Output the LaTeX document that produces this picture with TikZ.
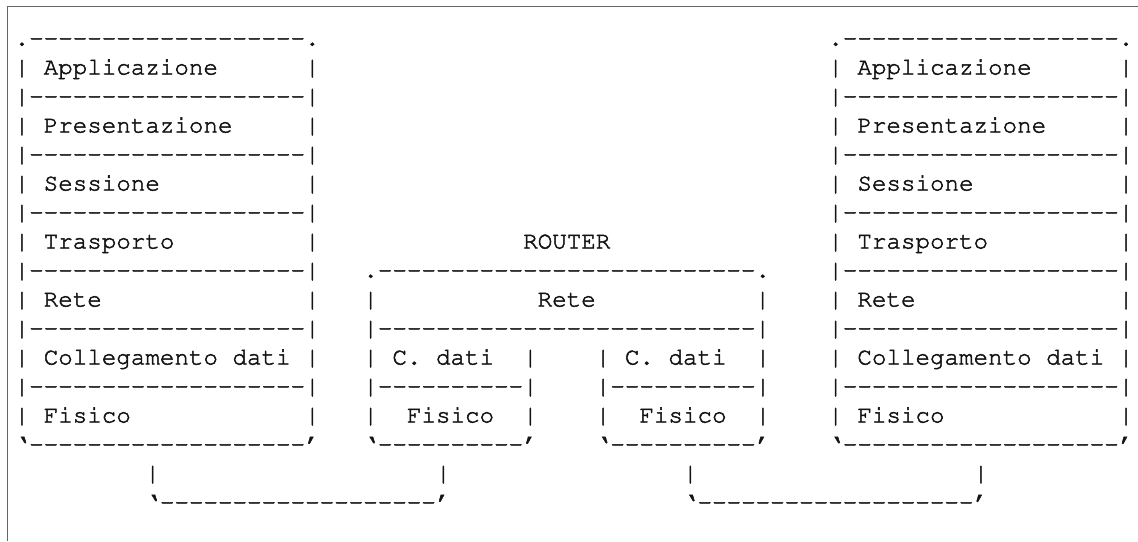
\documentclass[tikz,border=0pt]{standalone}
\usepackage[T1]{fontenc}
\usepackage{courier}
\ExplSyntaxOn
\cs_new:Npn \asciidash #1 { \prg_replicate:nn {#1} { -{} } }
\ExplSyntaxOff
\newcommand\asciifont{\fontfamily{pcr}\fontseries{m}\fontshape{n}\fontsize{24.2}{29}\selectfont\special{pdf:literal direct 2 Tr 0.5 w}}
\definecolor{framecol}{gray}{0.4}
\definecolor{txtcol}{gray}{0.08}
\tikzset{
  asc/.style={font=\asciifont, text=txtcol, anchor=base west, inner sep=0pt, outer sep=0pt},
  framestyle/.style={draw=framecol, line width=1pt}
}
% column c, row r -> position of base west
\newcommand\gpos[2]{({14.7+14.53*#1},{495.5-29*#2})}
\begin{document}
\begin{tikzpicture}[x=1pt,y=1pt]
\useasboundingbox (0,0) rectangle (1138,541);
\coordinate (fbl) at (7,0);
\coordinate (ftl) at (7,534);
\coordinate (ftr) at (1138,534);
\draw[framestyle] (fbl) -- (ftl) -- (ftr);
% ---------- left stack
\node[asc] (L0)  at \gpos{0}{0}  {.\asciidash{19}.};
\node[asc] (L1)  at \gpos{0}{1}  {|~Applicazione~~~~~~|};
\node[asc] (L2)  at \gpos{0}{2}  {|\asciidash{19}|};
\node[asc] (L3)  at \gpos{0}{3}  {|~Presentazione~~~~~|};
\node[asc] (L4)  at \gpos{0}{4}  {|\asciidash{19}|};
\node[asc] (L5)  at \gpos{0}{5}  {|~Sessione~~~~~~~~~~|};
\node[asc] (L6)  at \gpos{0}{6}  {|\asciidash{19}|};
\node[asc] (L7)  at \gpos{0}{7}  {|~Trasporto~~~~~~~~~|};
\node[asc] (L8)  at \gpos{0}{8}  {|\asciidash{19}|};
\node[asc] (L9)  at \gpos{0}{9}  {|~Rete~~~~~~~~~~~~~~|};
\node[asc] (L10) at \gpos{0}{10} {|\asciidash{19}|};
\node[asc] (L11) at \gpos{0}{11} {|~Collegamento~dati~|};
\node[asc] (L12) at \gpos{0}{12} {|\asciidash{19}|};
\node[asc] (L13) at \gpos{0}{13} {|~Fisico~~~~~~~~~~~~|};
\node[asc] (L14) at \gpos{0}{14} {`\asciidash{19}'};
% ---------- right stack
\node[asc] (R0)  at \gpos{56}{0}  {.\asciidash{19}.};
\node[asc] (R1)  at \gpos{56}{1}  {|~Applicazione~~~~~~|};
\node[asc] (R2)  at \gpos{56}{2}  {|\asciidash{19}|};
\node[asc] (R3)  at \gpos{56}{3}  {|~Presentazione~~~~~|};
\node[asc] (R4)  at \gpos{56}{4}  {|\asciidash{19}|};
\node[asc] (R5)  at \gpos{56}{5}  {|~Sessione~~~~~~~~~~|};
\node[asc] (R6)  at \gpos{56}{6}  {|\asciidash{19}|};
\node[asc] (R7)  at \gpos{56}{7}  {|~Trasporto~~~~~~~~~|};
\node[asc] (R8)  at \gpos{56}{8}  {|\asciidash{19}|};
\node[asc] (R9)  at \gpos{56}{9}  {|~Rete~~~~~~~~~~~~~~|};
\node[asc] (R10) at \gpos{56}{10} {|\asciidash{19}|};
\node[asc] (R11) at \gpos{56}{11} {|~Collegamento~dati~|};
\node[asc] (R12) at \gpos{56}{12} {|\asciidash{19}|};
\node[asc] (R13) at \gpos{56}{13} {|~Fisico~~~~~~~~~~~~|};
\node[asc] (R14) at \gpos{56}{14} {`\asciidash{19}'};
% ---------- router
\node[asc] (RT)  at \gpos{35}{7}  {ROUTER};
\node[asc] (M8)  at \gpos{24}{8}  {.\asciidash{26}.};
\node[asc] (M9)  at \gpos{24}{9}  {|~~~~~~~~~~~Rete~~~~~~~~~~~|};
\node[asc] (M10) at \gpos{24}{10} {|\asciidash{26}|};
\node[asc] (MA11) at \gpos{24}{11} {|~C.~dati~~|};
\node[asc] (MA12) at \gpos{24}{12} {|\asciidash{10}|};
\node[asc] (MA13) at \gpos{24}{13} {|~~Fisico~~|};
\node[asc] (MA14) at \gpos{24}{14} {`\asciidash{10}'};
\node[asc] (MB11) at \gpos{40}{11} {|~C.~dati~~|};
\node[asc] (MB12) at \gpos{40}{12} {|\asciidash{10}|};
\node[asc] (MB13) at \gpos{40}{13} {|~~Fisico~~|};
\node[asc] (MB14) at \gpos{40}{14} {`\asciidash{10}'};
% ---------- links
\node[asc] (C1a) at \gpos{9}{15}  {|};
\node[asc] (C1b) at \gpos{29}{15} {|};
\node[asc] (C1)  at \gpos{9}{16}  {`\asciidash{19}'};
\node[asc] (C2a) at \gpos{46}{15} {|};
\node[asc] (C2b) at \gpos{66}{15} {|};
\node[asc] (C2)  at \gpos{46}{16} {`\asciidash{19}'};
\end{tikzpicture}
\end{document}
